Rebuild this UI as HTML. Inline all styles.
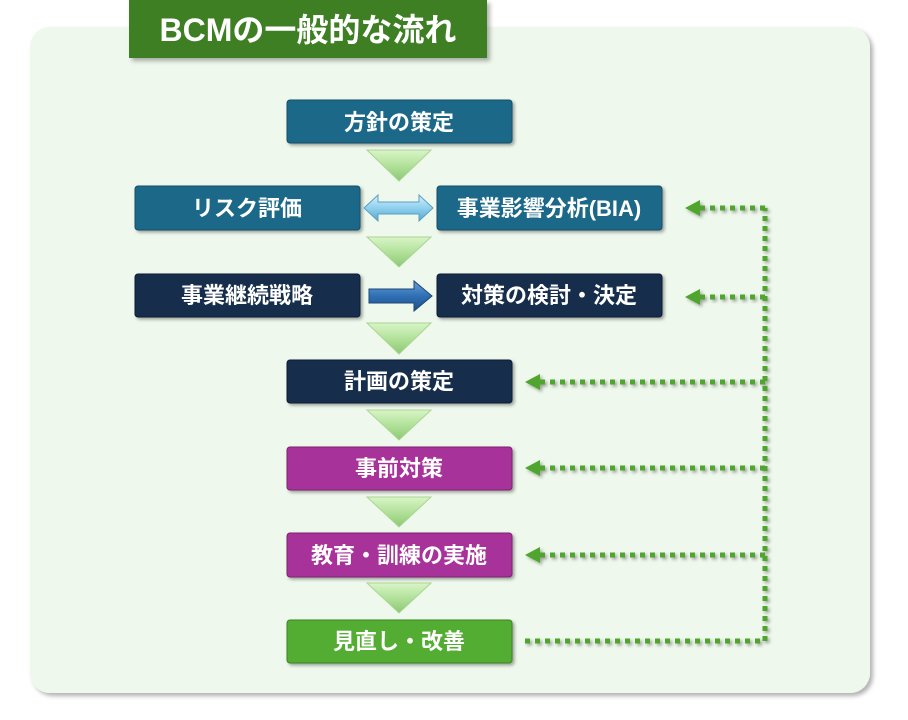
<!DOCTYPE html>
<html><head><meta charset="utf-8">
<style>
html,body{margin:0;padding:0;background:#fff;}
svg{display:block;}
text{font-family:"Liberation Sans","Noto Sans CJK JP",sans-serif;font-weight:bold;fill:#fff;}
</style></head>
<body>
<svg width="908" height="720" viewBox="0 0 908 720" xmlns="http://www.w3.org/2000/svg">
<defs>
<filter id="sh" x="-10%" y="-10%" width="130%" height="130%"><feDropShadow dx="3" dy="3" stdDeviation="2" flood-color="#000" flood-opacity="0.3"/></filter>
<filter id="sh2" x="-10%" y="-20%" width="130%" height="150%"><feDropShadow dx="2" dy="2" stdDeviation="1.5" flood-color="#000" flood-opacity="0.35"/></filter>
<linearGradient id="tri" x1="0" y1="0" x2="0" y2="1"><stop offset="0" stop-color="#d9f5c8"/><stop offset="0.5" stop-color="#b2e29a"/><stop offset="1" stop-color="#8cc874"/></linearGradient>
<linearGradient id="dbl" x1="0" y1="0" x2="0" y2="1"><stop offset="0" stop-color="#d8f0fb"/><stop offset="0.5" stop-color="#8fd0ee"/><stop offset="1" stop-color="#5aa8cf"/></linearGradient>
<linearGradient id="blu" x1="0" y1="0" x2="0" y2="1"><stop offset="0" stop-color="#6aa0d8"/><stop offset="0.5" stop-color="#2f6fb4"/><stop offset="1" stop-color="#214f88"/></linearGradient>
</defs>
<rect x="30" y="27" width="840" height="666" rx="20" fill="#eef8ec" filter="url(#sh)"/>
<rect x="129" y="0" width="358" height="58" fill="#3e7f23" filter="url(#sh)"/>
<text x="308" y="41" font-size="32" text-anchor="middle">BCMの一般的な流れ</text>

<g filter="url(#sh2)">
<rect x="287" y="100" width="225" height="43" rx="3" fill="#1d6889" stroke="#164f69"/>
<rect x="135" y="186" width="225" height="44" rx="3" fill="#1d6889" stroke="#164f69"/>
<rect x="437" y="186" width="225" height="44" rx="3" fill="#1d6889" stroke="#164f69"/>
<rect x="135" y="274" width="225" height="43" rx="3" fill="#142e4c" stroke="#0d1f35"/>
<rect x="437" y="274" width="225" height="43" rx="3" fill="#142e4c" stroke="#0d1f35"/>
<rect x="287" y="360" width="225" height="43" rx="3" fill="#142e4c" stroke="#0d1f35"/>
<rect x="287" y="447" width="225" height="43" rx="3" fill="#a73099" stroke="#7d2272"/>
<rect x="287" y="533" width="225" height="44" rx="3" fill="#a73099" stroke="#7d2272"/>
<rect x="287" y="620" width="225" height="43" rx="3" fill="#53ad31" stroke="#3c8423"/>
</g>
<g font-size="22" text-anchor="middle">
<text x="399" y="130">方針の策定</text>
<text x="247" y="216">リスク評価</text>
<text x="549" y="216">事業影響分析(BIA)</text>
<text x="247" y="303">事業継続戦略</text>
<text x="549" y="303">対策の検討・決定</text>
<text x="399" y="389">計画の策定</text>
<text x="399" y="476">事前対策</text>
<text x="399" y="563">教育・訓練の実施</text>
<text x="399" y="649">見直し・改善</text>
</g>
<g fill="url(#tri)" stroke="#a9d590" stroke-width="1">
<path d="M367,150 L431,150 L399,181 z"/>
<path d="M367,237 L431,237 L399,267 z"/>
<path d="M367,323 L431,323 L399,354 z"/>
<path d="M367,410 L431,410 L399,440 z"/>
<path d="M367,497 L431,497 L399,527 z"/>
<path d="M367,583 L431,583 L399,613 z"/>
</g>
<path d="M364,208 L378,195 L378,202 L419,202 L419,195 L433,208 L419,221 L419,214 L378,214 L378,221 z" fill="url(#dbl)" stroke="#5a9fc4"/>
<path d="M369,289 L414,289 L414,281 L432,296 L414,311 L414,303 L369,303 z" fill="url(#blu)" stroke="#1d4677"/>
<g filter="url(#sh2)">
<g stroke="#4fa52f" stroke-width="5" fill="none" stroke-dasharray="5 5">
<path d="M525,641 L765,641 L765,208"/>
<path d="M765,208 L698,208"/>
<path d="M765,297 L698,297"/>
<path d="M765,382 L538,382"/>
<path d="M765,468 L538,468"/>
<path d="M765,555 L538,555"/>
</g>
<g fill="#4fa52f">
<path d="M685,208 L700,200 L700,216 z"/>
<path d="M685,297 L700,289 L700,305 z"/>
<path d="M525,382 L540,374 L540,390 z"/>
<path d="M525,468 L540,460 L540,476 z"/>
<path d="M525,555 L540,547 L540,563 z"/>
</g>
</g>
</svg>
</body></html>
